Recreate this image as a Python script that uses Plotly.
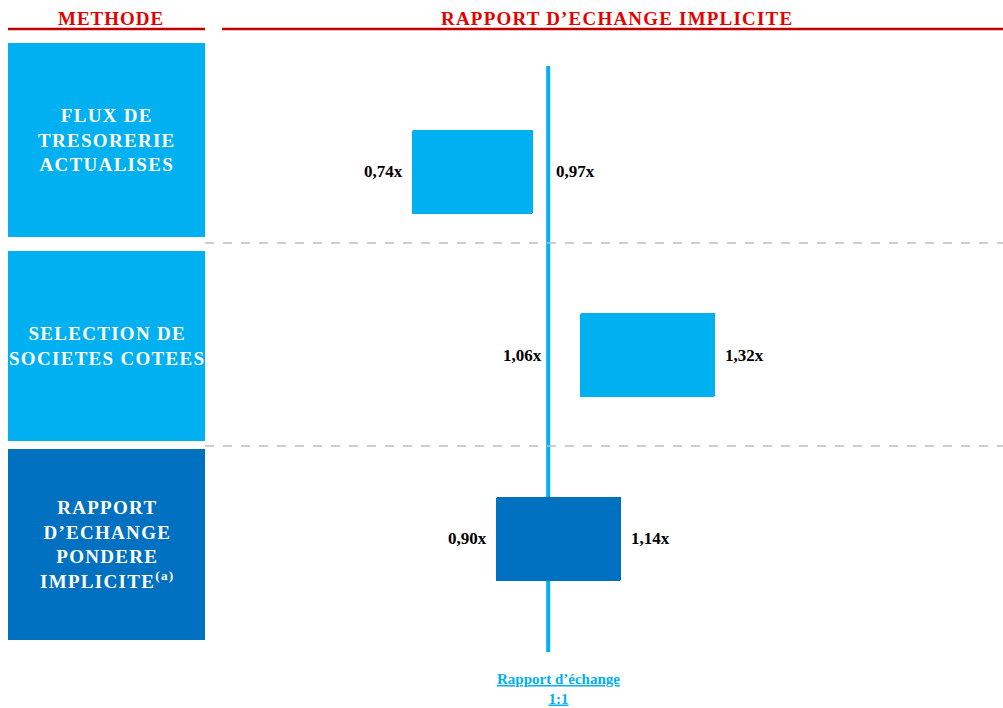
import plotly.graph_objects as go

# ---- data ----
methods = ["FLUX DE<br>TRESORERIE<br>ACTUALISES",
           "SELECTION DE<br>SOCIETES COTEES",
           "RAPPORT<br>D’ECHANGE<br>PONDERE<br>IMPLICITE<sup>(a)</sup>"]
low_vals = [0.74, 1.06, 0.90]
high_vals = [0.97, 1.32, 1.14]
low_labels = ["0,74x", "1,06x", "0,90x"]
high_labels = ["0,97x", "1,32x", "1,14x"]
ref_value = 1.0
ref_label = "Rapport d’échange<br>1:1"
header_left = "METHODE"
header_right = "RAPPORT D’ECHANGE IMPLICITE"

# ---- styles ----
W, H = 1003, 708
LIGHT = "#00B0F0"
DARK = "#0070C0"
RED_TXT = "#E60000"
RED_LINE = "#C00000"
FONT = "Liberation Serif"
bar_colors = [LIGHT, LIGHT, DARK]

def px(xp):
    return xp / W

def py(yp):
    return 1 - yp / H

def spaced(txt, sp):
    return "<b><span style='letter-spacing:%spx'>" % sp + txt + "</span></b>"

rows = list(range(len(methods)))

fig = go.Figure()
fig.add_trace(go.Bar(
    y=rows, x=[h - l for l, h in zip(low_vals, high_vals)], base=low_vals,
    orientation="h", width=0.458,
    marker=dict(color=bar_colors, line=dict(width=0), cornerradius=2),
    hoverinfo="skip", showlegend=False,
))

shapes = []
annotations = []

# reference line
shapes.append(dict(type="line", xref="x", yref="paper", x0=ref_value, x1=ref_value,
                   y0=py(652), y1=py(66), line=dict(color=LIGHT, width=4), layer="below"))
annotations.append(dict(xref="x", yref="paper", x=ref_value, y=py(689), text="<b>" + ref_label + "</b>",
                        showarrow=False, xshift=10, xanchor="center", yanchor="middle",
                        font=dict(family=FONT, size=15, color=LIGHT, lineposition="under")))

# headers
annotations.append(dict(xref="paper", yref="paper", x=px(111), y=py(18), text=spaced(header_left, 1),
                        showarrow=False, xanchor="center", yanchor="middle",
                        font=dict(family=FONT, size=19, color=RED_TXT)))
annotations.append(dict(xref="paper", yref="paper", x=px(617), y=py(18), text=spaced(header_right, 1.2),
                        showarrow=False, xanchor="center", yanchor="middle",
                        font=dict(family=FONT, size=19, color=RED_TXT)))
for x0, x1 in [(8, 205), (222, 1003)]:
    shapes.append(dict(type="line", xref="paper", yref="paper", x0=px(x0), x1=px(x1),
                       y0=py(29), y1=py(29), line=dict(color=RED_LINE, width=2.5)))

# left boxes
box_y = [(43, 237), (251, 441), (449, 640)]
for i, (y0, y1) in enumerate(box_y):
    shapes.append(dict(type="rect", xref="paper", yref="paper", x0=px(8), x1=px(205),
                       y0=py(y1), y1=py(y0), fillcolor=bar_colors[i], line=dict(width=0)))
    annotations.append(dict(xref="paper", yref="paper", x=px(107), y=py((y0 + y1) / 2),
                            text=spaced(methods[i], 1.3), showarrow=False, align="center",
                            xanchor="center", yanchor="middle",
                            font=dict(family=FONT, size=19, color="white")))

# separators
for yy in [243, 446]:
    shapes.append(dict(type="line", xref="paper", yref="paper", x0=px(205), x1=1,
                       y0=py(yy), y1=py(yy), line=dict(color="#BFBFBF", width=1.5, dash="dash")))

# value labels
for i in rows:
    lo, hi = low_vals[i], high_vals[i]
    if lo > ref_value:
        xl, sl = ref_value, -4
    else:
        xl, sl = lo, -7
    annotations.append(dict(xref="x", yref="y", x=xl, y=i, xanchor="right", yanchor="middle", xshift=sl,
                            text="<b>" + low_labels[i] + "</b>", showarrow=False,
                            font=dict(family=FONT, size=17, color="black")))
    if hi < ref_value:
        xh, sh = ref_value, 6
    else:
        xh, sh = hi, 8
    annotations.append(dict(xref="x", yref="y", x=xh, y=i, xanchor="left", yanchor="middle", xshift=sh,
                            text="<b>" + high_labels[i] + "</b>", showarrow=False,
                            font=dict(family=FONT, size=17, color="black")))

fig.update_layout(
    width=W, height=H, margin=dict(l=0, r=0, t=0, b=0),
    paper_bgcolor="white", plot_bgcolor="white",
    xaxis=dict(domain=[px(222), 1], range=[0.376, 1.870], visible=False, fixedrange=True),
    yaxis=dict(domain=[0, 1], range=[2.921, -0.937], visible=False, fixedrange=True),
    shapes=shapes, annotations=annotations, bargap=0,
)

fig.write_html("out.html", config=dict(displayModeBar=False),
               post_script="document.body.style.margin='0';document.body.style.overflow='hidden';")
